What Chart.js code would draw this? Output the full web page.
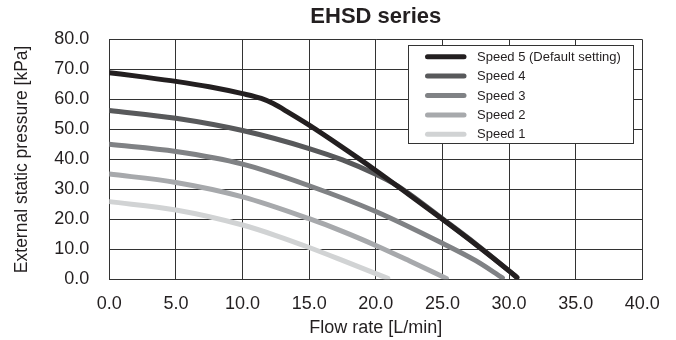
<!DOCTYPE html>
<html>
<head>
<meta charset="utf-8">
<script src="https://cdn.jsdelivr.net/npm/chart.js@4.4.1/dist/chart.umd.min.js"></script>
<style>
  html, body { margin: 0; padding: 0; background: #fff; }
  #wrap { width: 676px; height: 340px; }
</style>
</head>
<body>
<div id="wrap"><canvas id="c" width="676" height="340"></canvas></div>
<script>
// ---- data ----
const chartTitle = 'EHSD series';
const xAxisTitle = 'Flow rate [L/min]';
const yAxisTitle = 'External static pressure [kPa]';
const xTicks = [0, 5, 10, 15, 20, 25, 30, 35, 40];
const yTicks = [0, 10, 20, 30, 40, 50, 60, 70, 80];

const seriesLabels = ['Speed 5 (Default setting)', 'Speed 4', 'Speed 3', 'Speed 2', 'Speed 1'];

const speed5Flow  = [0, 2.5, 5, 7.5, 10, 11.4, 12.3, 13.5, 15, 17.5, 20, 22.5, 25, 27.5, 30, 30.6];
const speed5Press = [68.9, 67.5, 66.0, 64.2, 61.9, 60.3, 58.6, 55.5, 51.4, 44.0, 36.3, 28.2, 20.0, 11.6, 2.8, 0.6];

const speed4Flow  = [0, 5, 10, 15, 17.5, 20, 21.5, 22.5, 25, 27.5, 30, 30.5];
const speed4Press = [56.3, 53.7, 49.6, 43.6, 39.8, 35.0, 31.5, 28.5, 20.2, 11.8, 2.8, 0.9];

const speed3Flow  = [0, 5, 10, 15, 20, 25, 27.5, 29.5];
const speed3Press = [45.0, 42.6, 38.4, 31.2, 22.6, 12.0, 6.2, 0.5];

const speed2Flow  = [0, 5, 10, 15, 17.5, 20, 22.5, 25.3];
const speed2Press = [35.1, 32.3, 27.5, 20.2, 16.0, 11.3, 6.2, 0.3];

const speed1Flow  = [0, 5, 10, 12.5, 15, 17.5, 20.9];
const speed1Press = [25.9, 23.1, 18.1, 14.6, 10.6, 6.3, 0.3];

// ---- styles ----
const colors = ['#231f20', '#58595b', '#808285', '#a7a9ac', '#d1d3d4'];
const FONT = '"Liberation Sans", Arial, Helvetica, sans-serif';
const TEXT = '#231f20';
const GRID = '#333333';

const flows = [speed5Flow, speed4Flow, speed3Flow, speed2Flow, speed1Flow];
const presses = [speed5Press, speed4Press, speed3Press, speed2Press, speed1Press];

const datasets = seriesLabels.map((lab, i) => ({
  label: lab,
  data: flows[i].map((x, j) => ({ x: x, y: presses[i][j] })),
  borderColor: colors[i],
  backgroundColor: colors[i],
  borderWidth: 5,
  borderCapStyle: 'round',
  borderJoinStyle: 'round',
  pointRadius: 0,
  pointHoverRadius: 0,
  fill: false,
  cubicInterpolationMode: 'monotone'
}));

const legendBox = {
  id: 'legendBox',
  afterDraw(chart) {
    const ctx = chart.ctx, a = chart.chartArea;
    const w = 225, h = 98;
    const x0 = Math.round(a.right - 234), y0 = Math.round(a.top + 5.7);
    ctx.save();
    ctx.fillStyle = '#ffffff';
    ctx.fillRect(x0, y0, w, h);
    ctx.strokeStyle = GRID;
    ctx.lineWidth = 1;
    ctx.strokeRect(x0 + 0.5, y0 + 0.5, w, h);
    ctx.font = '13px ' + FONT;
    ctx.textBaseline = 'middle';
    ctx.textAlign = 'left';
    chart.data.datasets.forEach((ds, i) => {
      const y = y0 + 11.7 + i * 19.4;
      ctx.strokeStyle = ds.borderColor;
      ctx.lineWidth = 5;
      ctx.lineCap = 'round';
      ctx.beginPath();
      ctx.moveTo(x0 + 19.5, y);
      ctx.lineTo(x0 + 56, y);
      ctx.stroke();
      ctx.fillStyle = TEXT;
      ctx.fillText(ds.label, x0 + 69, y + 0.5);
    });
    ctx.restore();
  }
};

new Chart(document.getElementById('c'), {
  type: 'line',
  data: { datasets: datasets },
  plugins: [legendBox],
  options: {
    responsive: false,
    devicePixelRatio: 1,
    animation: false,
    events: [],
    layout: { padding: { left: 0, right: 33.7, top: 0, bottom: 0 } },
    plugins: {
      legend: { display: false },
      tooltip: { enabled: false },
      title: {
        display: true,
        text: chartTitle,
        fullSize: false,
        color: TEXT,
        font: { family: FONT, size: 22, weight: 'bold', lineHeight: 1.2 },
        padding: { top: 4, bottom: 9 }
      }
    },
    scales: {
      x: {
        type: 'linear',
        min: 0, max: 40,
        afterBuildTicks: (s) => { s.ticks = xTicks.map(v => ({ value: v })); },
        afterFit: (s) => { s.height = 60.7; },
        ticks: {
          color: TEXT,
          padding: 14,
          maxRotation: 0,
          font: { family: FONT, size: 18 },
          callback: (v) => Number(v).toFixed(1)
        },
        grid: { color: GRID, lineWidth: 1, drawTicks: false },
        border: { color: GRID, width: 1 },
        title: {
          display: true,
          text: xAxisTitle,
          color: TEXT,
          font: { family: FONT, size: 18, lineHeight: 1.2 },
          padding: { top: 0, bottom: 1 }
        }
      },
      y: {
        type: 'linear',
        min: 0, max: 80,
        afterBuildTicks: (s) => { s.ticks = yTicks.map(v => ({ value: v })); },
        afterFit: (s) => { s.width = 109.3; },
        ticks: {
          color: TEXT,
          padding: 20,
          font: { family: FONT, size: 18 },
          callback: (v) => Number(v).toFixed(1)
        },
        grid: { color: GRID, lineWidth: 1, drawTicks: false },
        border: { color: GRID, width: 1 },
        title: {
          display: true,
          text: yAxisTitle,
          color: TEXT,
          font: { family: FONT, size: 17.5, lineHeight: 1.2 },
          padding: { top: 12, bottom: 0 }
        }
      }
    }
  }
});
</script>
</body>
</html>
